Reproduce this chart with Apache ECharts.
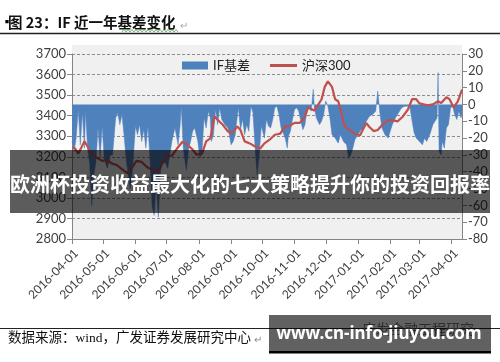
<!DOCTYPE html>
<html><head><meta charset="utf-8">
<script src="https://cdn.jsdelivr.net/npm/echarts@6/dist/echarts.min.js"></script>
<style>html,body{margin:0;padding:0;background:#fff;}#c{width:500px;height:362px;}</style>
</head><body><div id="c"></div>
<script>
// ---- DATA ----
const hsDates = ['2016-04-01','2016-04-04','2016-04-07','2016-04-11','2016-04-13','2016-04-16','2016-04-20','2016-04-25','2016-04-30','2016-05-05','2016-05-09','2016-05-14','2016-05-19','2016-05-24','2016-05-29','2016-06-02','2016-06-07','2016-06-12','2016-06-17','2016-06-22','2016-06-26','2016-07-01','2016-07-06','2016-07-11','2016-07-16','2016-07-20','2016-07-25','2016-07-30','2016-08-04','2016-08-08','2016-08-12','2016-08-16','2016-08-19','2016-08-24','2016-08-29','2016-09-02','2016-09-07','2016-09-10','2016-09-14','2016-09-19','2016-09-24','2016-09-29','2016-10-03','2016-10-08','2016-10-13','2016-10-18','2016-10-23','2016-10-27','2016-11-01','2016-11-06','2016-11-11','2016-11-14','2016-11-18','2016-11-20','2016-11-23','2016-11-27','2016-11-30','2016-12-03','2016-12-07','2016-12-10','2016-12-13','2016-12-16','2016-12-19','2016-12-24','2016-12-29','2017-01-03','2017-01-06','2017-01-09','2017-01-12','2017-01-16','2017-01-20','2017-01-25','2017-01-30','2017-02-03','2017-02-08','2017-02-13','2017-02-18','2017-02-22','2017-02-26','2017-03-01','2017-03-05','2017-03-09','2017-03-14','2017-03-19','2017-03-22','2017-03-27','2017-03-30','2017-04-03','2017-04-07','2017-04-11'];
const hsValues = [3245,3240,3215,3255,3275,3250,3210,3195,3180,3185,3168,3160,3140,3120,3150,3180,3175,3150,3137,3128,3160,3205,3205,3240,3272,3262,3240,3210,3215,3275,3290,3397,3380,3356,3323,3315,3348,3330,3275,3265,3250,3240,3265,3283,3307,3312,3348,3350,3365,3365,3395,3440,3430,3425,3448,3480,3540,3567,3540,3480,3470,3415,3350,3330,3312,3305,3335,3364,3345,3325,3330,3360,3378,3378,3372,3395,3430,3480,3480,3460,3455,3450,3455,3470,3462,3490,3480,3440,3470,3527];

const basisDates = ['2016-04-01','2016-04-03','2016-04-05','2016-04-07','2016-04-09','2016-04-11','2016-04-13','2016-04-14','2016-04-16','2016-04-18','2016-04-20','2016-04-22','2016-04-24','2016-04-26','2016-04-28','2016-04-30','2016-05-02','2016-05-05','2016-05-08','2016-05-10','2016-05-13','2016-05-15','2016-05-17','2016-05-19','2016-05-21','2016-05-23','2016-05-25','2016-05-27','2016-05-29','2016-05-31','2016-06-01','2016-06-03','2016-06-05','2016-06-07','2016-06-09','2016-06-11','2016-06-13','2016-06-15','2016-06-17','2016-06-19','2016-06-21','2016-06-23','2016-06-25','2016-06-27','2016-06-30','2016-07-02','2016-07-04','2016-07-06','2016-07-09','2016-07-12','2016-07-14','2016-07-15','2016-07-17','2016-07-19','2016-07-20','2016-07-22','2016-07-24','2016-07-26','2016-07-28','2016-07-31','2016-08-02','2016-08-04','2016-08-06','2016-08-08','2016-08-10','2016-08-12','2016-08-13','2016-08-15','2016-08-17','2016-08-19','2016-08-21','2016-08-23','2016-08-26','2016-08-29','2016-09-01','2016-09-03','2016-09-05','2016-09-06','2016-09-08','2016-09-10','2016-09-12','2016-09-14','2016-09-16','2016-09-18','2016-09-20','2016-09-22','2016-09-24','2016-09-26','2016-09-28','2016-09-30','2016-10-01','2016-10-03','2016-10-05','2016-10-07','2016-10-09','2016-10-11','2016-10-13','2016-10-15','2016-10-17','2016-10-19','2016-10-21','2016-10-23','2016-10-25','2016-10-26','2016-10-28','2016-10-30','2016-11-01','2016-11-03','2016-11-05','2016-11-07','2016-11-09','2016-11-11','2016-11-13','2016-11-15','2016-11-17','2016-11-18','2016-11-19','2016-11-20','2016-11-22','2016-11-25','2016-11-27','2016-11-29','2016-12-01','2016-12-03','2016-12-05','2016-12-07','2016-12-10','2016-12-13','2016-12-15','2016-12-18','2016-12-21','2016-12-23','2016-12-25','2016-12-27','2016-12-29','2017-01-01','2017-01-04','2017-01-07','2017-01-09','2017-01-12','2017-01-15','2017-01-18','2017-01-20','2017-01-22','2017-01-24','2017-01-27','2017-01-30','2017-02-01','2017-02-03','2017-02-06','2017-02-09','2017-02-12','2017-02-15','2017-02-18','2017-02-20','2017-02-22','2017-02-24','2017-02-26','2017-03-01','2017-03-04','2017-03-06','2017-03-08','2017-03-11','2017-03-14','2017-03-16','2017-03-18','2017-03-19','2017-03-20','2017-03-22','2017-03-23','2017-03-25','2017-03-27','2017-03-29','2017-03-31','2017-04-02','2017-04-04','2017-04-06','2017-04-08','2017-04-10','2017-04-11'];
const basisValues = [-22,-28,-20,-3,-24,-5,-26,-4,-26,-35,-60,-42,-34,-14,-32,-13,-32,-38,-30,-30,-8,-5,-12,-6,-18,-32,-42,-50,-40,-22,-13,-18,-12,-22,-15,-26,-13,-32,-60,-66,-45,-67,-40,-34,-35,-38,-30,-22,-14,-24,-12,-1,-26,-35,-39,-27,-22,-16,-14,-22,-32,-28,-8,-14,-4,-8,-22,-18,-3,-12,-2,-9,-12,-14,-24,-22,-18,-12,-2,-15,-9,-18,-12,-16,-1,-5,-25,-42,-30,-13,-15,-20,-9,-13,-14,-9,-2,-1,-6,-14,-17,-20,-26,-19,-16,-9,-3,-2,-4,-10,-15,-12,-3,-2,-4,-5,9,-2,-8,-12,-10,-6,2,-1,-8,-18,-20,-23,-18,-22,-24,-32,-30,-26,-21,-18,-15,-14,-10,-7,-6,-4,8,-5,-14,-18,-20,-16,-12,-8,-5,-2,-1,-1,-2,-10,-17,-20,-22,-24,-20,-22,-18,-12,-10,-8,19,-28,-30,-22,-26,-14,-12,-2,-1,-6,-9,-4,-8,-6];

const monthTicks = ['2016-04-01','2016-05-01','2016-06-01','2016-07-01','2016-08-01','2016-09-01','2016-10-01','2016-11-01','2016-12-01','2017-01-01','2017-02-01','2017-03-01','2017-04-01'];
const xRange = ['2016-04-01','2017-04-11'];
const leftAxis = {min: 2800, max: 3700, interval: 100};
const rightAxis = {min: -80, max: 30, interval: 10};
const seriesNames = ['IF基差','沪深300'];
const titleText = '图 23：IF 近一年基差变化';
const sourceText = '数据来源：wind，广发证券发展研究中心';
const bannerText = '欧洲杯投资收益最大化的七大策略提升你的投资回报率';
const watermarkText = 'www.cn-info-jiuyou.com';
const hiddenText = '广发金融工程研究';

// ---- CHART ----
function toTs(s){const p=s.split('-').map(Number);return new Date(p[0],p[1]-1,p[2]).getTime();}
function fmt(v){const d=new Date(v);return d.getFullYear()+'-'+String(d.getMonth()+1).padStart(2,'0')+'-'+String(d.getDate()).padStart(2,'0');}
const numFont = "Lato, 'Noto Sans CJK SC', sans-serif";
const cjk = "'Noto Sans CJK SC', sans-serif";
const tickTs = monthTicks.map(toTs);

const wave = [];
for (let x = 122, k = 0; x <= 178; x += 2, k++) wave.push([x, k % 2 ? 29.5 : 32]);

const chart = echarts.init(document.getElementById('c'), null, {renderer:'canvas'});
chart.setOption({
  animation: false,
  backgroundColor: '#fff',
  grid: {left: 72, right: 38, top: 54, height: 185, show: true, backgroundColor: '#f0f0f0', borderWidth: 0},
  legend: [
    {data: [{name: seriesNames[0], icon: 'rect'}], left: 177, top: 54, itemWidth: 26, itemHeight: 8, itemGap: 5,
     textStyle: {fontSize: 13, color: '#222', fontFamily: numFont}},
    {data: [{name: seriesNames[1], icon: 'rect'}], left: 265, top: 54, itemWidth: 27, itemHeight: 3, itemGap: 5,
     textStyle: {fontSize: 13, color: '#222', fontFamily: numFont}}
  ],
  xAxis: {
    type: 'value', min: toTs(xRange[0]), max: toTs(xRange[1]),
    axisLine: {show: true, onZero: false, lineStyle: {color: '#868686'}},
    axisTick: {show: true, length: 5, lineStyle: {color: '#868686'}, customValues: tickTs},
    axisLabel: {rotate: 45, fontSize: 12, color: '#404040', fontFamily: numFont, margin: 8,
      verticalAlign: 'top', customValues: tickTs, formatter: fmt},
    splitLine: {show: false}
  },
  yAxis: [
    {type: 'value', min: leftAxis.min, max: leftAxis.max, interval: leftAxis.interval, position: 'left',
     axisLine: {show: true, lineStyle: {color: '#868686'}},
     axisTick: {show: true, length: 5, lineStyle: {color: '#868686'}},
     axisLabel: {fontSize: 13, color: '#404040', fontFamily: numFont, margin: 6, formatter: v => String(v)},
     splitLine: {show: true, lineStyle: {type: [3, 2], color: '#8c8c8c'}}},
    {type: 'value', min: rightAxis.min, max: rightAxis.max, interval: rightAxis.interval, position: 'right',
     axisLine: {show: true, lineStyle: {color: '#868686'}},
     axisTick: {show: true, length: 5, lineStyle: {color: '#868686'}},
     axisLabel: {fontSize: 13, color: '#404040', fontFamily: numFont, margin: 6, formatter: v => String(v)},
     splitLine: {show: false}}
  ],
  series: [
    {name: seriesNames[0], type: 'line', yAxisIndex: 1, symbol: 'none', smooth: false,
     data: basisDates.map((d, i) => [toTs(d), basisValues[i]]),
     lineStyle: {width: 0.5, color: '#4f81bd'}, itemStyle: {color: '#4f81bd'},
     areaStyle: {color: '#4f81bd', opacity: 1}, z: 2},
    {name: seriesNames[1], type: 'line', yAxisIndex: 0, symbol: 'none', smooth: false,
     data: hsDates.map((d, i) => [toTs(d), hsValues[i]]),
     lineStyle: {width: 2.2, color: '#c0504d'}, itemStyle: {color: '#c0504d'}, z: 3}
  ],
  graphic: {elements: [
    {type: 'rect', shape: {x: 72, y: 45, width: 390, height: 9}, style: {fill: '#f0f0f0'}, z: 0, silent: true},
    {type: 'text', left: 1, top: 16, style: {text: '▪', fontSize: 12, fill: '#000', fontFamily: cjk}},
    {type: 'text', left: 8, top: 15, style: {text: titleText, fontSize: 14.5, fontWeight: 'bold', fill: '#111', fontFamily: cjk}},
    {type: 'text', left: 180, top: 20, style: {text: '↵', fontSize: 10, fill: '#aaa', fontFamily: cjk}},
    {type: 'polyline', shape: {points: wave}, style: {stroke: '#5aa05a', lineWidth: 0.8, fill: null}},
    {type: 'line', shape: {x1: 0, y1: 33.5, x2: 500, y2: 33.5}, style: {stroke: '#222', lineWidth: 1.5}},
    {type: 'line', shape: {x1: 0, y1: 328.5, x2: 500, y2: 328.5}, style: {stroke: '#222', lineWidth: 1.2}},
    {type: 'text', left: 8, top: 332, style: {text: sourceText + ' {a|↵}', fontSize: 13.5, fill: '#111',
      fontFamily: "'Liberation Serif','Noto Sans CJK SC',serif", rich: {a: {fontSize: 10, fill: '#888', fontFamily: cjk}}}},
    {type: 'text', left: 362, top: 322, style: {text: hiddenText, fontSize: 14, fill: '#777', fontFamily: cjk}},
    {type: 'rect', shape: {x: 10, y: 150, width: 480, height: 63}, style: {fill: 'rgba(0,0,0,0.64)'}, z: 100},
    {type: 'text', x: 250, y: 184, style: {text: bannerText, fontSize: 20, fontWeight: 'bold', fill: '#fff', fontFamily: cjk, align: 'center', verticalAlign: 'middle'}, z: 101},
    {type: 'rect', shape: {x: 269, y: 315, width: 222, height: 36}, style: {fill: 'rgba(0,0,0,0.62)'}, z: 100},
    {type: 'rect', shape: {x: 269, y: 351, width: 222, height: 2.5}, style: {fill: '#000'}, z: 100},
    {type: 'text', x: 379, y: 334, style: {text: watermarkText, fontSize: 17, fontWeight: 'bold', fill: '#fff', fontFamily: "'Noto Sans','Open Sans',sans-serif", align: 'center', verticalAlign: 'middle'}, z: 101}
  ]}
});
</script></body></html>
